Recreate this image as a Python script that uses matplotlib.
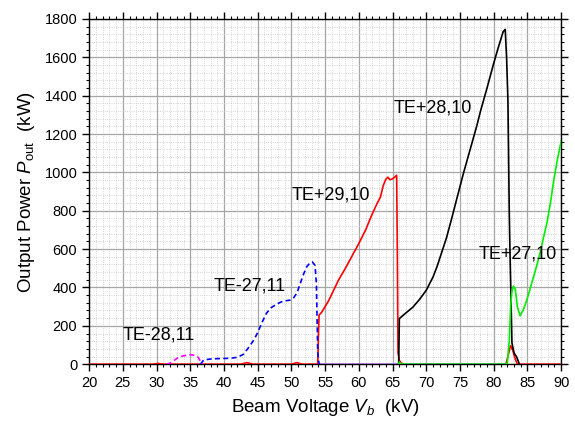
import matplotlib
matplotlib.use("Agg")
import matplotlib.pyplot as plt
from matplotlib.ticker import MultipleLocator

plt.rcParams['font.family'] = ['Liberation Sans', 'DejaVu Sans']
plt.rcParams['mathtext.fontset'] = 'custom'
plt.rcParams['mathtext.it'] = 'Liberation Sans:italic'
plt.rcParams['mathtext.rm'] = 'Liberation Sans'

# TE-28,11 (magenta, dashed)
v_m = [31.5, 32.2, 33.0, 33.8, 34.5, 35.2, 35.8, 36.2, 36.5, 36.8]
p_m = [0, 8, 30, 42, 47, 49, 45, 35, 15, 0]

# TE-27,11 (blue, dashed)
v_b = [36.5, 37.0, 38.0, 39.0, 40.0, 41.0, 42.0, 42.9, 43.5, 44.4, 45.0, 45.6, 46.3,
       47.0, 47.8, 48.5, 49.0, 49.8, 50.3, 50.8, 51.3, 51.8, 52.3, 52.8, 53.1, 53.5,
       53.7, 53.9, 54.1]
p_b = [0, 22, 27, 29, 30, 31, 36, 52, 80, 125, 165, 215, 266, 295, 313, 325, 330, 334,
       345, 370, 420, 470, 510, 530, 533, 515, 420, 60, 0]

# purple baseline after TE-27,11
v_pu = [54.1, 82.0]
p_pu = [0, 0]

# TE+29,10 (red)
v_r = [20.0, 29.5, 30.2, 31.0, 42.5, 43.4, 44.3, 50.0, 50.8, 51.6, 53.9, 54.0, 54.1,
       54.5, 55.5, 57.0, 58.0, 59.0, 60.0, 61.0, 61.7, 62.2, 62.7, 63.2, 63.6, 64.0,
       64.3, 64.6, 64.9, 65.3, 65.6, 65.7, 65.8, 66.0, 66.3, 66.8, 81.8, 82.2, 82.5,
       82.8, 83.1, 83.5, 90.0]
p_r = [0, 0, 4, 0, 0, 8, 0, 0, 8, 0, 0, 150, 256, 272, 330, 440, 500, 565, 630, 700,
       760, 800, 838, 872, 930, 965, 975, 962, 965, 975, 985, 600, 60, 20, 5, 0, 0, 55,
       96, 75, 35, 0, 0]

# TE+28,10 (black)
v_k = [65.9, 66.0, 67.0, 68.0, 69.0, 70.0, 71.0, 71.6, 72.3, 73.0, 73.8, 74.5, 75.5,
       76.5, 77.5, 78.0, 79.0, 80.0, 80.7, 81.4, 81.7, 81.9, 82.1, 82.3, 82.4, 82.7,
       83.0, 83.4, 83.8]
p_k = [0, 238, 268, 297, 338, 386, 455, 510, 585, 660, 765, 860, 995, 1120, 1245,
       1315, 1440, 1570, 1655, 1734, 1746, 1600, 1377, 787, 595, 110, 60, 37, 0]

# TE+27,10 (green)
v_g = [65.9, 66.0, 66.2, 82.0, 82.3, 82.5, 82.7, 82.9, 83.2, 83.5, 83.9, 84.4, 84.9,
       85.4, 85.9, 86.5, 87.0, 87.4, 87.9, 88.4, 88.9, 89.4, 90.0]
p_g = [0, 12, 0, 0, 120, 300, 380, 407, 390, 300, 252, 285, 334, 395, 455, 530,
       600, 664, 740, 840, 960, 1060, 1165]

labels = ["TE-28,11", "TE-27,11", "TE+29,10", "TE+28,10", "TE+27,10"]
label_v = [24.9, 38.4, 50.1, 65.1, 77.8]
label_p = [154, 409, 884, 1338, 575]

fig = plt.figure(figsize=(5.75, 4.22), dpi=100)
ax = fig.add_axes([0.155, 0.137, 0.821, 0.818])

ax.plot(v_r, p_r, color='red', lw=1.2, zorder=3)
ax.plot(v_pu, p_pu, color='#9966dd', lw=1.2, zorder=3)
ax.plot(v_m, p_m, color='magenta', lw=1.2, ls=(0, (3, 2)), zorder=3)
ax.plot(v_b, p_b, color='blue', lw=1.2, ls=(0, (3, 2)), zorder=3)
ax.plot(v_k, p_k, color='black', lw=1.2, zorder=3)
ax.plot(v_g, p_g, color='#00ee00', lw=1.2, zorder=3)

for txt, x, y in zip(labels, label_v, label_p):
    ax.text(x, y, txt, fontsize=13, va='center', ha='left', zorder=4)

ax.set_xlim(20, 90)
ax.set_ylim(0, 1800)
ax.xaxis.set_major_locator(MultipleLocator(5))
ax.xaxis.set_minor_locator(MultipleLocator(1))
ax.yaxis.set_major_locator(MultipleLocator(200))
ax.yaxis.set_minor_locator(MultipleLocator(40))

ax.grid(which='major', color='#a6a6a6', lw=0.9, zorder=0)
ax.grid(which='minor', color='#c8c8c8', lw=0.6, ls=':', zorder=0)
ax.set_axisbelow(True)

ax.tick_params(which='both', direction='out', top=True, right=True, labelsize=10.5)
ax.tick_params(which='major', length=5, width=1)
ax.tick_params(which='minor', length=2.5, width=0.8)
for s in ax.spines.values():
    s.set_linewidth(1)

ax.set_xlabel(r"Beam Voltage $V_b$  (kV)", fontsize=13.5, labelpad=5)
ax.set_ylabel(r"Output Power $P_{\rm out}$  (kW)", fontsize=13.5, labelpad=5)

fig.savefig("out.png", dpi=100)
